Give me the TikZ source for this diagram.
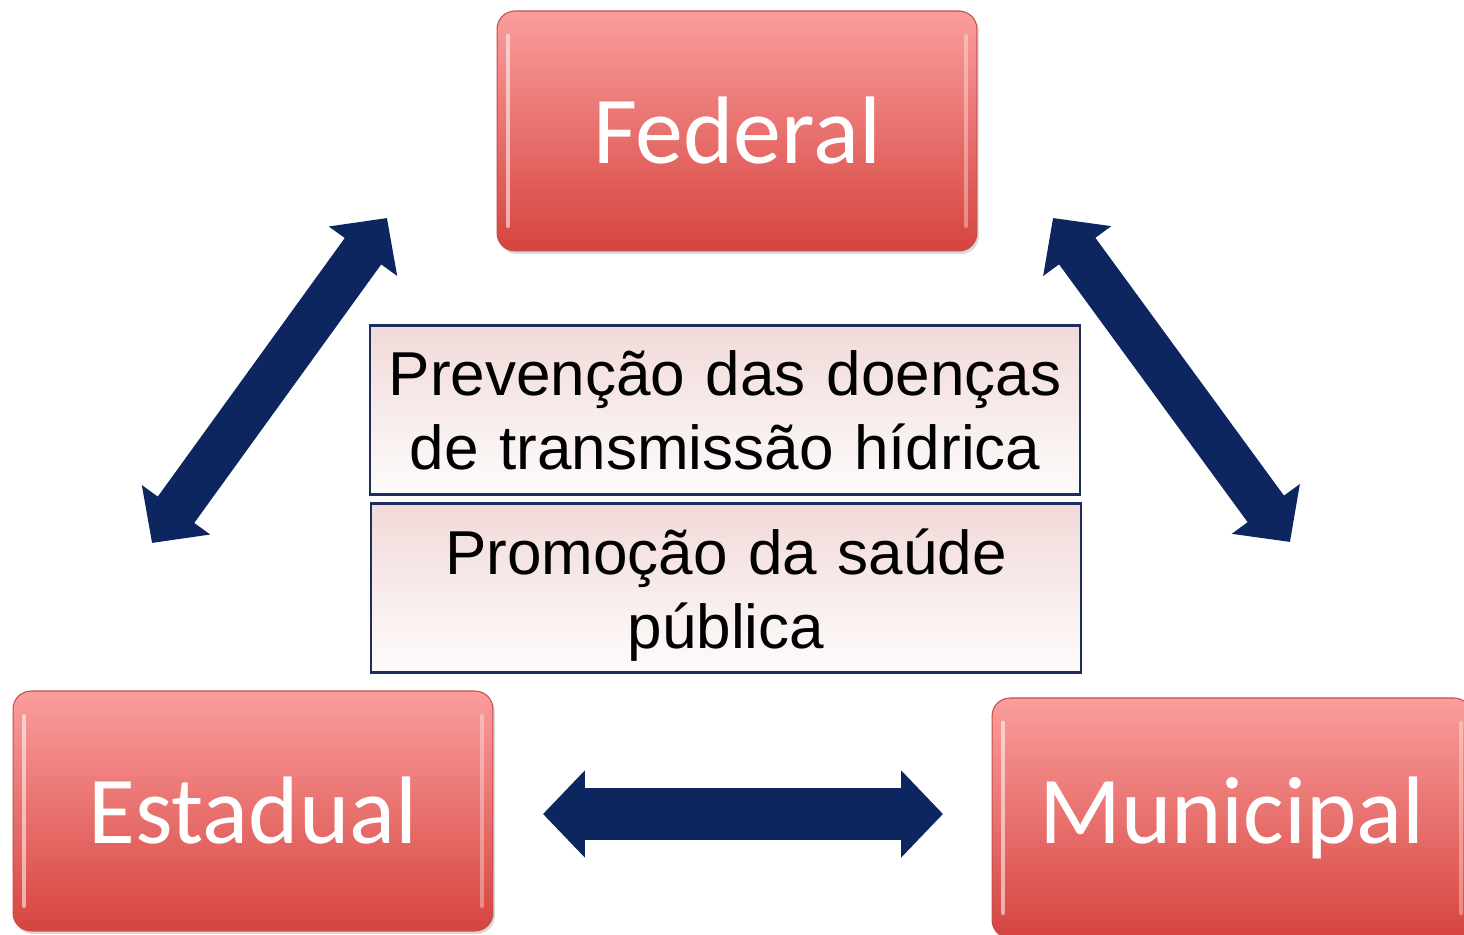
\documentclass[tikz,border=0pt]{standalone}
\usepackage{fontspec}
\setmainfont{Liberation Sans}
\newfontfamily\levelfont{Carlito}
\usetikzlibrary{arrows.meta,shadows}

\definecolor{levtop}{RGB}{250,158,157}
\definecolor{levbot}{RGB}{214,68,63}
\definecolor{levedge}{RGB}{196,78,74}
\definecolor{arrownavy}{RGB}{14,38,96}
\definecolor{aimpink}{RGB}{241,218,217}
\definecolor{aimedge}{RGB}{30,44,98}

\tikzset{
  level/.style={draw=levedge, line width=0.6pt, rounded corners=0.36cm,
    top color=levtop, bottom color=levbot,
    minimum width=9.6cm, minimum height=4.8cm, text=white,
    font=\levelfont\fontsize{54.6}{60}\selectfont,
    drop shadow={opacity=0.3, shadow xshift=0.04cm, shadow yshift=-0.06cm},
    path picture={
      \draw[white, opacity=0.55, line width=2.5pt, line cap=round]
        ([xshift=0.22cm, yshift=-0.5cm]path picture bounding box.north west)
        -- ([xshift=0.22cm, yshift=0.5cm]path picture bounding box.south west);
      \draw[white, opacity=0.35, line width=2.5pt, line cap=round]
        ([xshift=-0.22cm, yshift=-0.5cm]path picture bounding box.north east)
        -- ([xshift=-0.22cm, yshift=0.5cm]path picture bounding box.south east);
    }},
  aim/.style={draw=aimedge, line width=1.2pt,
    top color=aimpink, bottom color=white!90!aimpink,
    text width=14cm, inner sep=0.1cm, align=center,
    minimum height=3.38cm, font=\fontsize{35.3}{42}\selectfont},
  link/.style={arrownavy, line width=0.9cm,
    {Triangle[width=1.64cm,length=0.82cm]}-{Triangle[width=1.64cm,length=0.82cm]}},
  linkwide/.style={arrownavy, line width=1.04cm,
    {Triangle[width=1.7cm,length=0.84cm]}-{Triangle[width=1.7cm,length=0.84cm]}}
}

\begin{document}
\begin{tikzpicture}[x=0.02cm, y=-0.02cm]
    \useasboundingbox (0,0) rectangle (1464,935);

    \coordinate (fe) at (387,218);
    \coordinate (ef) at (152,543);
    \coordinate (fm) at (1053,218);
    \coordinate (mf) at (1290,542);
    \coordinate (em) at (543,814);
    \coordinate (me) at (943,814);

    \node[level] (fed) at (737,131) {Federal};
    \node[level] (est) at (253,811) {Estadual};
    \node[level] (mun) at (1232,818) {Municipal};

    \node[aim] (prev) at (725,410) {Prevenção das doenças\\de transmissão hídrica};
    \node[aim] (prom) at (726,588) {\rule{0pt}{1.2cm}Promoção da saúde\\pública};

    \draw[link] (ef) -- (fe);
    \draw[link] (fm) -- (mf);
    \draw[linkwide] (em) -- (me);
\end{tikzpicture}
\end{document}
